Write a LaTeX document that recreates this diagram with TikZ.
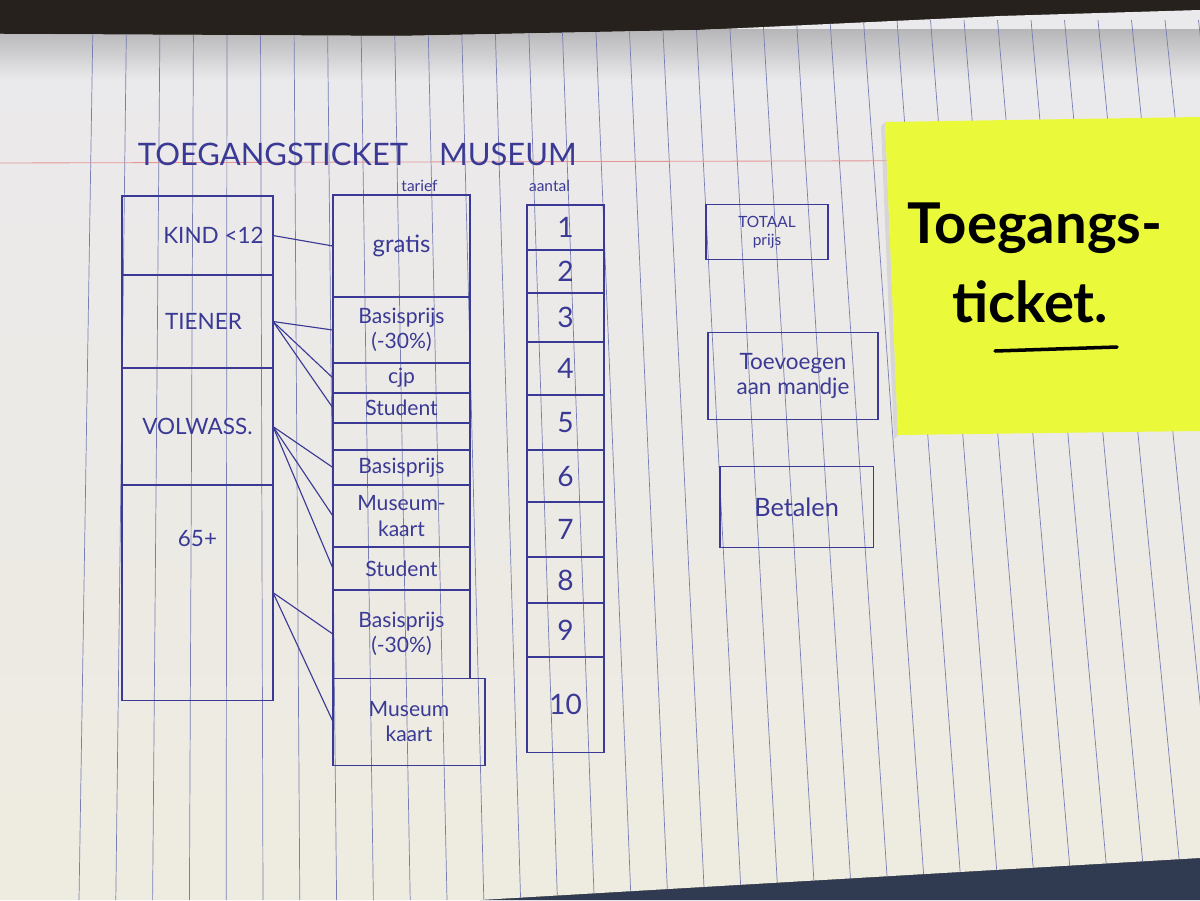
\documentclass[tikz,border=0pt]{standalone}
\usepackage{fontspec}
\setmainfont{Lato}
\usepackage{tikz}
\usetikzlibrary{positioning,calc}
\definecolor{ink}{RGB}{58,58,150}
\definecolor{paper}{RGB}{234,233,236}
\definecolor{paperlow}{RGB}{238,235,224}
\definecolor{rulec}{RGB}{120,126,178}
\definecolor{marginc}{RGB}{228,150,150}
\definecolor{postit}{RGB}{234,250,58}
\definecolor{desk}{RGB}{38,33,28}
\definecolor{denim}{RGB}{48,58,80}
\tikzset{
cat/.style = {draw=ink, line width=0.9pt, rectangle, minimum width=3.775cm, outer sep=0pt, inner sep=1pt, text=ink, font=\fontsize{16}{18}\selectfont},
tar/.style = {cat, minimum width=3.425cm, align=center, font=\fontsize{15}{18}\selectfont},
num/.style = {cat, minimum width=1.925cm, font=\fontsize{20}{22}\selectfont},
btn/.style = {cat, align=center},
head/.style = {text=ink, inner sep=1pt, font=\fontsize{11}{13}\selectfont},
link/.style = {draw=ink, line width=0.8pt},
rule/.style = {draw=rulec, line width=0.5pt},
marker/.style = {text=black, inner sep=0pt, font=\fontsize{40}{44}\selectfont\bfseries}
}

\begin{document}
\begin{tikzpicture}[x=0.025cm, y=-0.025cm]
    \useasboundingbox (0,0) rectangle (1200,900);
    \fill[desk] (0,0) rectangle (1200,900);
    \fill[denim] (480,900) -- (1200,858) -- (1200,900) -- cycle;
    \begin{scope}
        \clip (4,34) -- (400,36) -- (700,30) -- (1000,16) -- (1200,10) -- (1200,858) -- (480,900) -- (0,900) -- (0,34) -- cycle;
        \shade[top color=paper, bottom color=paperlow] (0,0) rectangle (1200,900);
        \shade[top color=black!22!paper, bottom color=paper] (0,30) rectangle (1200,80);
        \foreach \i in {0,...,33}
            \draw[rule] ({93+33.5*\i},20) -- ({79+36.8*\i},900);
        \draw[marginc, line width=0.6pt] (0,163) -- (1200,160);
    \end{scope}

    \node[text=ink, font=\fontsize{22}{24}\selectfont, anchor=west] (title) at (133,154) {TOEGANGSTICKET\quad MUSEUM};

    \node[cat, minimum height=1.975cm, anchor=north] (kind) at (197.5,196) {\hspace*{0.8cm}KIND <12};
    \node[cat, minimum height=2.325cm, below=0pt of kind] (tiener) {\hspace*{0.3cm}TIENER};
    \node[cat, minimum height=2.925cm, below=0pt of tiener] (volw) {VOLWASS.};
    \node[cat, minimum height=5.375cm, below=0pt of volw] (senior) {};
    \node[head, font=\fontsize{16}{18}\selectfont, below=1.1cm of senior.north] (seniortxt) {65+};

    \node[tar, minimum height=2.55cm, anchor=north, font=\fontsize{17}{20}\selectfont] (gratis) at (401.5,195) {gratis};
    \node[tar, minimum height=1.65cm, below=0pt of gratis] (basis1) {Basisprijs\\(-30\%)};
    \node[tar, minimum height=0.75cm, below=0pt of basis1] (cjp) {cjp};
    \node[tar, minimum height=0.75cm, below=0pt of cjp] (student1) {Student};
    \node[tar, minimum height=0.675cm, below=0pt of student1] (leeg) {};
    \node[tar, minimum height=0.875cm, below=0pt of leeg] (basis2) {Basisprijs};
    \node[tar, minimum height=1.55cm, below=0pt of basis2] (kaart1) {Museum-\\kaart};
    \node[tar, minimum height=1.075cm, below=0pt of kaart1] (student2) {Student};
    \node[tar, minimum height=2.2cm, below=0pt of student2] (basis3) {Basisprijs\\(-30\%)};
    \node[tar, minimum height=2.175cm, minimum width=3.8cm, anchor=north west] (kaart2) at (basis3.south west) {Museum\\kaart};
    \node[head, above=1pt of gratis.north, xshift=0.45cm] (tarief) {tarief};

    \foreach \h [count=\n] in {1.125,1.075,1.225,1.325,1.375,1.3,1.375,1.15,1.35,2.375} {
        \ifnum\n=1
            \node[num, minimum height=\h cm, anchor=north] (n\n) at (565.5,205) {\n};
        \else
            \pgfmathtruncatemacro\prev{\n-1}
            \node[num, minimum height=\h cm, below=0pt of n\prev] (n\n) {\n};
        \fi
    }
    \node[head, above=0.3cm of n1.north, xshift=-0.4cm] (aantal) {aantal};

    \node[btn, minimum width=3.05cm, minimum height=1.375cm, font=\fontsize{11}{13}\selectfont] (totaal) at (767,232) {TOTAAL\\prijs};
    \node[btn, minimum width=4.25cm, minimum height=2.175cm, below=1.825cm of totaal, xshift=0.65cm] (mandje) {Toevoegen\\aan mandje};
    \node[btn, minimum width=3.825cm, minimum height=2.025cm, below=1.175cm of mandje, xshift=0.09cm, font=\fontsize{18}{20}\selectfont] (betalen) {Betalen};

    \draw[link] (kind.east) -- (gratis.west);
    \foreach \t in {basis1,cjp,student1}
        \draw[link] (tiener.east) -- (\t.west);
    \foreach \t in {basis2,kaart1,student2}
        \draw[link] (volw.east) -- (\t.west);
    \foreach \t in {basis3,kaart2}
        \draw[link] (senior.east) -- (\t.west);

    \fill[black!30, opacity=0.35] (881,126) -- (885,122) -- (898,435) -- (894,439) -- cycle;
    \fill[postit] (885,122) -- (1200,117) -- (1200,431) -- (898,435) -- cycle;
    \node[marker] (sticky1) at (1035,228) {Toegangs-};
    \node[marker] (sticky2) at (1030,302) {ticket.};
    \draw[black, line width=2.5pt, line cap=round] (995,351) -- (1117,347);
\end{tikzpicture}
\end{document}
